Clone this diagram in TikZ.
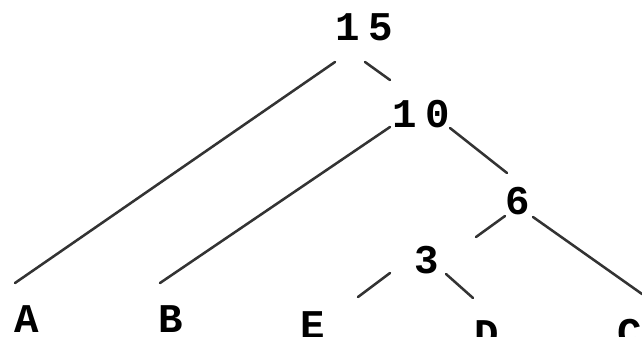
\documentclass[tikz,border=0pt]{standalone}
\usepackage{fontspec}
\usepackage{tikz}
\usetikzlibrary{positioning}
\newfontfamily\treefont[LetterSpace=20]{Liberation Mono}

\begin{document}
\begin{tikzpicture}[
    x=0.025cm, y=-0.025cm,
    lbl/.style={inner sep=0pt, anchor=center, font=\treefont\bfseries\fontsize{29}{29}\selectfont},
    edge/.style={line width=1.8pt, black!80, line cap=round}
  ]
  \useasboundingbox (0,0) rectangle (642,336);

  %% Inner nodes (weights)
  \node[lbl] (n15) at (364, 27) {15};
  \node[lbl] (n10) at (421,114) {10};
  \node[lbl] (n6)  at (518,201) {6};
  \node[lbl] (n3)  at (427,260) {3};

  %% Leaves
  \node[lbl] (A) at ( 27,319) {A};
  \node[lbl] (B) at (171,319) {B};
  \node[lbl] (E) at (313,325) {E};
  \node[lbl] (D) at (487,334) {D};
  \node[lbl] (C) at (630,333) {C};

  %% Branches (parent/offset -- child/offset)
  \foreach \p/\px/\py/\c/\cx/\cy in {
      n15/-29/35/A/-12/-36,
      n15/1/35/n10/-31/-34,
      n10/-31/13/B/-11/-36,
      n10/29/14/n6/-11/-28,
      n6/-13/15/n3/49/-23,
      n6/15/16/C/12/-39,
      n3/-37/13/E/45/-28,
      n3/19/14/D/-14/-36}{
    \draw[edge] ([shift={(\px,\py)}]\p.center) -- ([shift={(\cx,\cy)}]\c.center);
  }

\end{tikzpicture}
\end{document}
